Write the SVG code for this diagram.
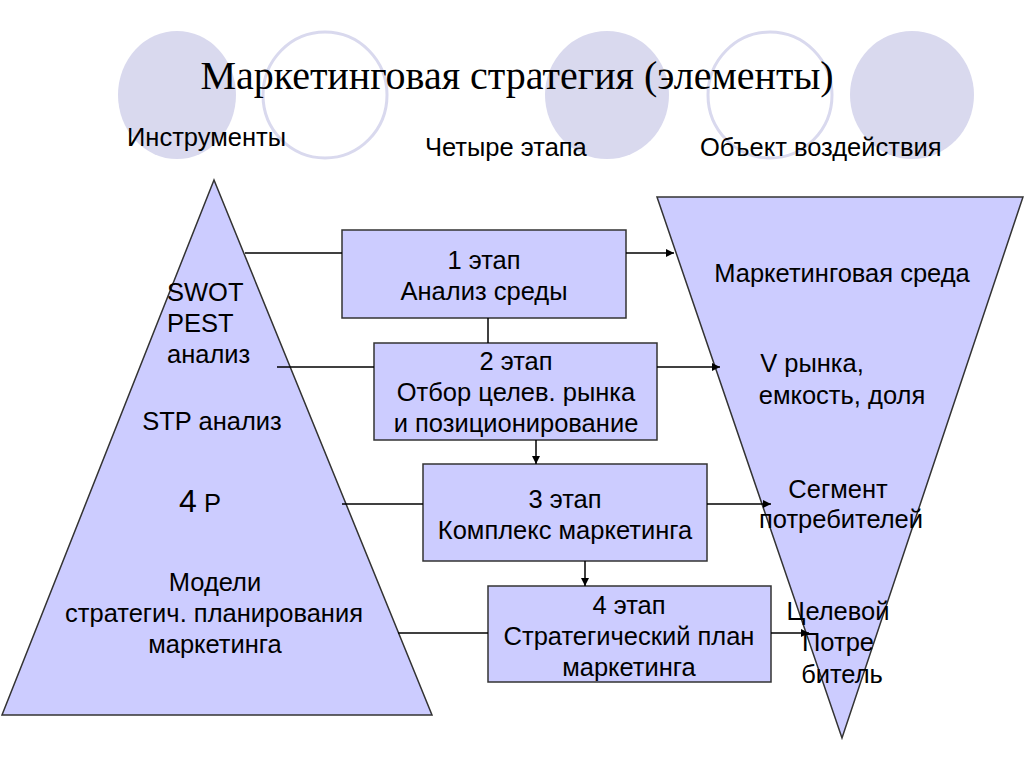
<svg xmlns="http://www.w3.org/2000/svg" width="1024" height="767" viewBox="0 0 1024 767">
<defs>
<style>
.t{font-family:"Liberation Sans",Arial,sans-serif;font-size:25.5px;fill:#000;text-anchor:middle}
.l{text-anchor:start}
.h{font-family:"Liberation Sans",Arial,sans-serif;font-size:25.5px;fill:#000}
.box{fill:#ccccff;stroke:#333;stroke-width:1.5}
.tri{fill:#ccccff;stroke:#333;stroke-width:1.5}
.cf{fill:#d9d9ee}
.co{fill:none;stroke:#d9d9ee;stroke-width:3}
.ln{stroke:#000;stroke-width:1.5;fill:none}
</style>
<marker id="ah" viewBox="0 0 10 10" refX="10" refY="5" markerWidth="8" markerHeight="8" markerUnits="userSpaceOnUse" orient="auto">
<path d="M0,0 L10,5 L0,10 Z" fill="#000"/>
</marker>
</defs>
<rect width="1024" height="767" fill="#fff"/>
<g id="decor">
<ellipse class="cf" cx="177" cy="95" rx="59" ry="64"/>
<ellipse class="co" cx="325" cy="95" rx="62" ry="63"/>
<ellipse class="cf" cx="607" cy="95" rx="62" ry="64"/>
<ellipse class="co" cx="770" cy="95" rx="62" ry="63"/>
<ellipse class="cf" cx="912" cy="95" rx="62" ry="64"/>
</g>
<g id="title">
<text x="517" y="89" font-family="Liberation Serif,'Times New Roman',serif" font-size="40" text-anchor="middle">Маркетинговая стратегия (элементы)</text>
<text class="h" x="127" y="146">Инструменты</text>
<text class="h" x="425" y="156">Четыре этапа</text>
<text class="h" x="700" y="156">Объект воздействия</text>
</g>
<g id="tools">
<polygon class="tri" points="214,180 2,715 432,715"/>
<text class="t l" x="167" y="301">SWOT</text>
<text class="t l" x="167" y="332">PEST</text>
<text class="t l" x="167" y="363">анализ</text>
<text class="t" x="212" y="430">STP анализ</text>
<text class="t" x="200" y="512"><tspan font-size="32">4</tspan> Р</text>
<text class="t" x="215" y="591">Модели</text>
<text class="t" x="214" y="622">стратегич. планирования</text>
<text class="t" x="215" y="653">маркетинга</text>
</g>
<g id="objects">
<polygon class="tri" points="657,197 1023,197 842,738"/>
<text class="t" x="842" y="282">Маркетинговая среда</text>
<text class="t" x="812" y="372">V рынка,</text>
<text class="t" x="842" y="404">емкость, доля</text>
<text class="t" x="838" y="498">Сегмент</text>
<text class="t" x="841" y="528">потребителей</text>
<text class="t" x="838" y="620">Целевой</text>
<text class="t" x="838" y="651">Потре</text>
<text class="t" x="842" y="683">битель</text>
</g>
<g id="stage1">
<rect class="box" x="342" y="230" width="284" height="88"/>
<text class="t" x="484" y="269">1 этап</text>
<text class="t" x="484" y="300">Анализ среды</text>
</g>
<g id="stage2">
<rect class="box" x="374" y="343" width="283" height="97"/>
<text class="t" x="516" y="370">2 этап</text>
<text class="t" x="516" y="401">Отбор целев. рынка</text>
<text class="t" x="516" y="432">и позиционирование</text>
</g>
<g id="stage3">
<rect class="box" x="423" y="464" width="284" height="97"/>
<text class="t" x="565" y="508">3 этап</text>
<text class="t" x="565" y="539">Комплекс маркетинга</text>
</g>
<g id="stage4">
<rect class="box" x="488" y="586" width="283" height="96"/>
<text class="t" x="629" y="614">4 этап</text>
<text class="t" x="629" y="645">Стратегический план</text>
<text class="t" x="629" y="676">маркетинга</text>
</g>
<g id="connectors">
<line class="ln" x1="245" y1="253" x2="342" y2="253"/>
<line class="ln" x1="626" y1="253" x2="674" y2="253" marker-end="url(#ah)"/>
<line class="ln" x1="488" y1="318" x2="488" y2="343"/>
<line class="ln" x1="277" y1="367" x2="374" y2="367"/>
<line class="ln" x1="657" y1="367" x2="720" y2="367" marker-end="url(#ah)"/>
<line class="ln" x1="536" y1="440" x2="536" y2="464" marker-end="url(#ah)"/>
<line class="ln" x1="342" y1="504" x2="423" y2="504"/>
<line class="ln" x1="707" y1="504" x2="771" y2="504" marker-end="url(#ah)"/>
<line class="ln" x1="585" y1="561" x2="585" y2="586" marker-end="url(#ah)"/>
<line class="ln" x1="398" y1="633" x2="488" y2="633"/>
<line class="ln" x1="771" y1="633" x2="809" y2="633" marker-end="url(#ah)"/>
</g>
</svg>
